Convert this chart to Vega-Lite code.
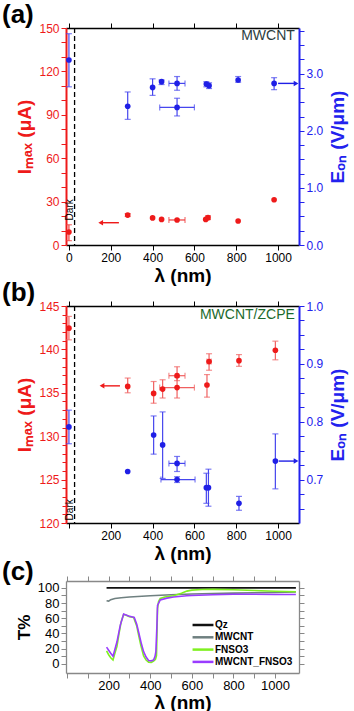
{
  "$schema": "https://vega.github.io/schema/vega-lite/v6.json",
  "padding": {"left": 2, "top": 2, "right": 2, "bottom": 0},
  "background": "white",
  "resolve": {"legend": {"color": "independent"}},
  "spacing": -5,
  "config": {
    "view": {"stroke": null},
    "font": "Liberation Sans",
    "axis": {"grid": false, "labelFont": "Liberation Sans", "titleFont": "Liberation Sans", "labelFontSize": 12, "titleFontSize": 19, "titleFontWeight": "bold", "tickSize": 5, "domainWidth": 1.3, "tickWidth": 1, "labelPadding": 2, "labelOverlap": false}
  },
  "datasets": {
    "aI": [
      {"l": 0, "v": 9.0, "lo": 3, "hi": 14},
      {"l": 281, "v": 20.7, "lo": 19.7, "hi": 21.7},
      {"l": 400, "v": 18.7},
      {"l": 443, "v": 17.7},
      {"l": 517, "v": 17.3, "xlo": 478, "xhi": 555},
      {"l": 654, "v": 17.7},
      {"l": 665, "v": 18.9, "lo": 17.6, "hi": 20.2},
      {"l": 809, "v": 16.6},
      {"l": 981, "v": 31.3}
    ],
    "aE": [
      {"l": 0, "v": 3.24, "lo": 2.77, "hi": 3.70},
      {"l": 281, "v": 2.43, "lo": 2.20, "hi": 2.68},
      {"l": 400, "v": 2.76, "lo": 2.62, "hi": 2.91},
      {"l": 443, "v": 2.86, "lo": 2.81, "hi": 2.89},
      {"l": 517, "v": 2.83, "lo": 2.71, "hi": 2.95, "xlo": 478, "xhi": 555},
      {"l": 517, "v": 2.41, "lo": 2.26, "hi": 2.57, "xlo": 434, "xhi": 600},
      {"l": 657, "v": 2.82, "lo": 2.77, "hi": 2.86},
      {"l": 670, "v": 2.79, "lo": 2.74, "hi": 2.84},
      {"l": 809, "v": 2.89, "lo": 2.85, "hi": 2.95},
      {"l": 981, "v": 2.83, "lo": 2.72, "hi": 2.93}
    ],
    "bI": [
      {"l": 0, "v": 142.45, "lo": 141.1, "hi": 143.8},
      {"l": 281, "v": 135.74, "lo": 135.0, "hi": 136.7},
      {"l": 405, "v": 134.93, "lo": 133.8, "hi": 136.3},
      {"l": 448, "v": 135.43, "lo": 134.4, "hi": 136.5},
      {"l": 517, "v": 135.6, "lo": 134.4, "hi": 136.8, "xlo": 434, "xhi": 600},
      {"l": 517, "v": 136.97, "lo": 136.4, "hi": 138.0, "xlo": 478, "xhi": 555},
      {"l": 660, "v": 135.9, "lo": 134.5, "hi": 137.1},
      {"l": 670, "v": 138.6, "lo": 137.6, "hi": 139.5, "xlo": 660, "xhi": 680},
      {"l": 813, "v": 138.7, "lo": 138.05, "hi": 139.4},
      {"l": 987, "v": 139.9, "lo": 138.8, "hi": 140.95}
    ],
    "bE": [
      {"l": 0, "v": 0.791, "lo": 0.762, "hi": 0.82},
      {"l": 281, "v": 0.714},
      {"l": 405, "v": 0.777, "lo": 0.744, "hi": 0.81},
      {"l": 448, "v": 0.760, "lo": 0.702, "hi": 0.817},
      {"l": 517, "v": 0.728, "lo": 0.714, "hi": 0.740, "xlo": 478, "xhi": 555},
      {"l": 517, "v": 0.700, "lo": 0.695, "hi": 0.705, "xlo": 440, "xhi": 603},
      {"l": 657, "v": 0.686, "lo": 0.659, "hi": 0.711},
      {"l": 667, "v": 0.686, "lo": 0.654, "hi": 0.718},
      {"l": 813, "v": 0.659, "lo": 0.647, "hi": 0.671},
      {"l": 987, "v": 0.732, "lo": 0.684, "hi": 0.779}
    ],
    "aArrR": [{"x1": 239, "x2": 152, "v": 15.4}],
    "aArrB": [{"x1": 1000, "x2": 1086, "v": 2.83}],
    "bArrR": [{"x1": 244, "x2": 158, "v": 135.8}],
    "bArrB": [{"x1": 1003, "x2": 1086, "v": 0.732}],
    "dash": [{"l": 27}],
    "aTxt": [{"l": 3, "v": 17, "t": "Dark"}],
    "bTxt": [{"l": 5, "v": 120.3, "t": "Dark"}],
    "aLab": [{"l": 1080, "v": 144.7, "t": "MWCNT"}],
    "bLab": [{"l": 1080, "v": 144.0, "t": "MWCNT/ZCPE"}],
    "trans": [
      {"s": "Qz", "l": 190, "T": 100}, {"s": "Qz", "l": 400, "T": 100}, {"s": "Qz", "l": 700, "T": 100}, {"s": "Qz", "l": 1100, "T": 100},
      {"s": "MWCNT", "l": 190, "T": 83}, {"s": "MWCNT", "l": 200, "T": 82.5}, {"s": "MWCNT", "l": 210, "T": 84.5}, {"s": "MWCNT", "l": 230, "T": 86}, {"s": "MWCNT", "l": 260, "T": 87}, {"s": "MWCNT", "l": 300, "T": 88}, {"s": "MWCNT", "l": 400, "T": 89.5}, {"s": "MWCNT", "l": 500, "T": 91}, {"s": "MWCNT", "l": 600, "T": 92}, {"s": "MWCNT", "l": 700, "T": 92.5}, {"s": "MWCNT", "l": 800, "T": 93}, {"s": "MWCNT", "l": 900, "T": 93.5}, {"s": "MWCNT", "l": 1000, "T": 94}, {"s": "MWCNT", "l": 1100, "T": 94.5},
      {"s": "FNSO3", "l": 190, "T": 17}, {"s": "FNSO3", "l": 200, "T": 12}, {"s": "FNSO3", "l": 210, "T": 8}, {"s": "FNSO3", "l": 221, "T": 5}, {"s": "FNSO3", "l": 230, "T": 14}, {"s": "FNSO3", "l": 240, "T": 23}, {"s": "FNSO3", "l": 250, "T": 40}, {"s": "FNSO3", "l": 260, "T": 55}, {"s": "FNSO3", "l": 272, "T": 65}, {"s": "FNSO3", "l": 285, "T": 64}, {"s": "FNSO3", "l": 300, "T": 62}, {"s": "FNSO3", "l": 320, "T": 61}, {"s": "FNSO3", "l": 335, "T": 50}, {"s": "FNSO3", "l": 344, "T": 38}, {"s": "FNSO3", "l": 355, "T": 24}, {"s": "FNSO3", "l": 368, "T": 10.5}, {"s": "FNSO3", "l": 380, "T": 5}, {"s": "FNSO3", "l": 392, "T": 2.2}, {"s": "FNSO3", "l": 405, "T": 2}, {"s": "FNSO3", "l": 416, "T": 3.5}, {"s": "FNSO3", "l": 425, "T": 6}, {"s": "FNSO3", "l": 430, "T": 11}, {"s": "FNSO3", "l": 435, "T": 73}, {"s": "FNSO3", "l": 440, "T": 82}, {"s": "FNSO3", "l": 448, "T": 86}, {"s": "FNSO3", "l": 470, "T": 88}, {"s": "FNSO3", "l": 512, "T": 89.5}, {"s": "FNSO3", "l": 550, "T": 93}, {"s": "FNSO3", "l": 576, "T": 95.7}, {"s": "FNSO3", "l": 600, "T": 97}, {"s": "FNSO3", "l": 650, "T": 97.8}, {"s": "FNSO3", "l": 700, "T": 98}, {"s": "FNSO3", "l": 800, "T": 97.5}, {"s": "FNSO3", "l": 900, "T": 96.5}, {"s": "FNSO3", "l": 1000, "T": 95.5}, {"s": "FNSO3", "l": 1100, "T": 94.8},
      {"s": "MWCNT_FNSO3", "l": 190, "T": 22}, {"s": "MWCNT_FNSO3", "l": 200, "T": 18}, {"s": "MWCNT_FNSO3", "l": 210, "T": 14}, {"s": "MWCNT_FNSO3", "l": 221, "T": 10}, {"s": "MWCNT_FNSO3", "l": 230, "T": 19}, {"s": "MWCNT_FNSO3", "l": 240, "T": 29}, {"s": "MWCNT_FNSO3", "l": 256, "T": 51}, {"s": "MWCNT_FNSO3", "l": 272, "T": 65.5}, {"s": "MWCNT_FNSO3", "l": 296, "T": 63}, {"s": "MWCNT_FNSO3", "l": 323, "T": 61}, {"s": "MWCNT_FNSO3", "l": 335, "T": 52}, {"s": "MWCNT_FNSO3", "l": 344, "T": 42}, {"s": "MWCNT_FNSO3", "l": 356, "T": 28}, {"s": "MWCNT_FNSO3", "l": 368, "T": 16}, {"s": "MWCNT_FNSO3", "l": 380, "T": 9}, {"s": "MWCNT_FNSO3", "l": 392, "T": 4.5}, {"s": "MWCNT_FNSO3", "l": 405, "T": 4}, {"s": "MWCNT_FNSO3", "l": 416, "T": 5.2}, {"s": "MWCNT_FNSO3", "l": 423, "T": 10}, {"s": "MWCNT_FNSO3", "l": 427, "T": 16}, {"s": "MWCNT_FNSO3", "l": 432, "T": 50}, {"s": "MWCNT_FNSO3", "l": 435, "T": 77}, {"s": "MWCNT_FNSO3", "l": 448, "T": 84}, {"s": "MWCNT_FNSO3", "l": 480, "T": 86.5}, {"s": "MWCNT_FNSO3", "l": 512, "T": 88}, {"s": "MWCNT_FNSO3", "l": 576, "T": 89.5}, {"s": "MWCNT_FNSO3", "l": 600, "T": 90}, {"s": "MWCNT_FNSO3", "l": 700, "T": 91}, {"s": "MWCNT_FNSO3", "l": 800, "T": 91.5}, {"s": "MWCNT_FNSO3", "l": 900, "T": 91.5}, {"s": "MWCNT_FNSO3", "l": 1000, "T": 91.3}, {"s": "MWCNT_FNSO3", "l": 1100, "T": 91.2}
    ]
  },
  "vconcat": [
    {
      "width": 233, "height": 217,
      "title": {"text": "(a)", "anchor": "start", "frame": "group", "fontSize": 26, "fontWeight": "bold", "font": "Liberation Sans", "dx": -64, "offset": -6},
      "resolve": {"scale": {"y": "independent"}, "axis": {"x": "independent", "y": "independent"}},
      "layer": [
        {
          "resolve": {"axis": {"x": "independent", "y": "independent"}},
          "layer": [
            {
              "layer": [
                {"data": {"name": "dash"}, "mark": {"type": "rule", "color": "black", "strokeDash": [5, 3], "strokeWidth": 1.3},
                 "encoding": {
                   "x": {"field": "l", "type": "quantitative", "scale": {"domain": [-14, 1100], "nice": false, "zero": false},
                         "axis": {"orient": "bottom", "title": "λ (nm)", "values": [0,100,200,300,400,500,600,700,800,900,1000], "format": "d", "labelExpr": "datum.value % 200 === 0 ? datum.label : ''", "domainColor": "black", "tickColor": "black", "labelColor": "black", "titleColor": "black", "titlePadding": 3}}}},
                {"data": {"name": "aI"}, "transform": [{"filter": "isValid(datum.lo)"}], "mark": {"type": "rule", "color": "#ef3a3a", "strokeWidth": 1.2},
                 "encoding": {
                   "x": {"field": "l", "type": "quantitative"},
                   "y": {"field": "lo", "type": "quantitative", "scale": {"domain": [0, 150], "nice": false, "zero": false},
                         "axis": {"orient": "left", "title": "Iₘₐₓ (μA)", "values": [0,30,60,90,120,150], "format": "d", "domainColor": "#ee1a1a", "tickColor": "#ee1a1a", "labelColor": "#ee1a1a", "titleColor": "#ee1a1a", "domainWidth": 2}},
                   "y2": {"field": "hi"}}},
                {"data": {"name": "aI"}, "transform": [{"fold": ["lo", "hi"], "as": ["k", "cv"]}, {"filter": "isValid(datum.cv)"}], "mark": {"type": "tick", "orient": "horizontal", "color": "#ef3a3a", "size": 6, "thickness": 1.2},
                 "encoding": {"x": {"field": "l", "type": "quantitative"}, "y": {"field": "cv", "type": "quantitative"}}},
                {"data": {"name": "aI"}, "transform": [{"filter": "isValid(datum.xlo)"}], "mark": {"type": "rule", "color": "#ef3a3a", "strokeWidth": 1.2},
                 "encoding": {"x": {"field": "xlo", "type": "quantitative"}, "x2": {"field": "xhi"}, "y": {"field": "v", "type": "quantitative"}}},
                {"data": {"name": "aI"}, "transform": [{"fold": ["xlo", "xhi"], "as": ["k", "cv"]}, {"filter": "isValid(datum.cv)"}], "mark": {"type": "tick", "orient": "vertical", "color": "#ef3a3a", "size": 6, "thickness": 1.2},
                 "encoding": {"x": {"field": "cv", "type": "quantitative"}, "y": {"field": "v", "type": "quantitative"}}},
                {"data": {"name": "aI"}, "mark": {"type": "point", "filled": true, "size": 32, "color": "#ee1a1a", "opacity": 1},
                 "encoding": {"x": {"field": "l", "type": "quantitative"}, "y": {"field": "v", "type": "quantitative"}}},
                {"data": {"name": "aArrR"}, "mark": {"type": "rule", "color": "#ee1a1a", "strokeWidth": 1.4},
                 "encoding": {"x": {"field": "x1", "type": "quantitative"}, "x2": {"field": "x2"}, "y": {"field": "v", "type": "quantitative"}}},
                {"data": {"name": "aArrR"}, "mark": {"type": "point", "shape": "triangle-left", "filled": true, "size": 30, "color": "#ee1a1a", "opacity": 1},
                 "encoding": {"x": {"field": "x2", "type": "quantitative"}, "y": {"field": "v", "type": "quantitative"}}},
                {"data": {"name": "aTxt"}, "mark": {"type": "text", "angle": 270, "align": "left", "baseline": "middle", "fontSize": 10, "color": "black"},
                 "encoding": {"x": {"field": "l", "type": "quantitative"}, "y": {"field": "v", "type": "quantitative"}, "text": {"field": "t"}}},
                {"data": {"name": "aLab"}, "mark": {"type": "text", "align": "right", "baseline": "middle", "fontSize": 14, "color": "#2d3d3d"},
                 "encoding": {"x": {"field": "l", "type": "quantitative"}, "y": {"field": "v", "type": "quantitative"}, "text": {"field": "t"}}}
              ]
            },
            {"data": {"name": "aI"}, "mark": {"type": "point", "opacity": 0},
             "encoding": {"x": {"field": "l", "type": "quantitative", "axis": null},
                          "y": {"field": "v", "type": "quantitative", "axis": {"orient": "left", "title": null, "labels": false, "domain": false, "values": [10,20,40,50,70,80,100,110,130,140], "tickColor": "#ee1a1a"}}}}
          ]
        },
        {
          "resolve": {"axis": {"x": "independent", "y": "independent"}},
          "layer": [
            {
              "layer": [
                {"data": {"name": "aE"}, "transform": [{"filter": "isValid(datum.lo)"}], "mark": {"type": "rule", "color": "#4646ee", "strokeWidth": 1.2},
                 "encoding": {
                   "x": {"field": "l", "type": "quantitative", "axis": {"orient": "top", "title": null, "labels": false, "values": [0,100,200,300,400,500,600,700,800,900,1000], "domainColor": "black", "tickColor": "black"}},
                   "y": {"field": "lo", "type": "quantitative", "scale": {"domain": [0, 3.8], "nice": false, "zero": false},
                         "axis": {"orient": "right", "title": "Eₒₙ (V/μm)", "titleAngle": 270, "titleBaseline": "top", "titlePadding": 6, "values": [0, 1, 2, 3], "format": ".1f", "domainColor": "#2222ee", "tickColor": "#2222ee", "labelColor": "#2222ee", "titleColor": "#2222ee", "domainWidth": 2}},
                   "y2": {"field": "hi"}}},
                {"data": {"name": "aE"}, "transform": [{"fold": ["lo", "hi"], "as": ["k", "cv"]}, {"filter": "isValid(datum.cv)"}], "mark": {"type": "tick", "orient": "horizontal", "color": "#4646ee", "size": 6, "thickness": 1.2},
                 "encoding": {"x": {"field": "l", "type": "quantitative"}, "y": {"field": "cv", "type": "quantitative"}}},
                {"data": {"name": "aE"}, "transform": [{"filter": "isValid(datum.xlo)"}], "mark": {"type": "rule", "color": "#4646ee", "strokeWidth": 1.2},
                 "encoding": {"x": {"field": "xlo", "type": "quantitative"}, "x2": {"field": "xhi"}, "y": {"field": "v", "type": "quantitative"}}},
                {"data": {"name": "aE"}, "transform": [{"fold": ["xlo", "xhi"], "as": ["k", "cv"]}, {"filter": "isValid(datum.cv)"}], "mark": {"type": "tick", "orient": "vertical", "color": "#4646ee", "size": 6, "thickness": 1.2},
                 "encoding": {"x": {"field": "cv", "type": "quantitative"}, "y": {"field": "v", "type": "quantitative"}}},
                {"data": {"name": "aE"}, "mark": {"type": "point", "filled": true, "size": 32, "color": "#1f1fe6", "opacity": 1},
                 "encoding": {"x": {"field": "l", "type": "quantitative"}, "y": {"field": "v", "type": "quantitative"}}},
                {"data": {"name": "aArrB"}, "mark": {"type": "rule", "color": "#1f1fe6", "strokeWidth": 1.4},
                 "encoding": {"x": {"field": "x1", "type": "quantitative"}, "x2": {"field": "x2"}, "y": {"field": "v", "type": "quantitative"}}},
                {"data": {"name": "aArrB"}, "mark": {"type": "point", "shape": "triangle-right", "filled": true, "size": 30, "color": "#1f1fe6", "opacity": 1},
                 "encoding": {"x": {"field": "x2", "type": "quantitative"}, "y": {"field": "v", "type": "quantitative"}}}
              ]
            },
            {"data": {"name": "aE"}, "mark": {"type": "point", "opacity": 0},
             "encoding": {"x": {"field": "l", "type": "quantitative", "axis": null},
                          "y": {"field": "v", "type": "quantitative", "axis": {"orient": "right", "title": null, "labels": false, "domain": false, "values": [0.25,0.5,0.75,1.25,1.5,1.75,2.25,2.5,2.75,3.25,3.5,3.75], "tickColor": "#2222ee"}}}}
          ]
        }
      ]
    },
    {
      "width": 233, "height": 217,
      "title": {"text": "(b)", "anchor": "start", "frame": "group", "fontSize": 26, "fontWeight": "bold", "font": "Liberation Sans", "dx": -64, "offset": -6},
      "resolve": {"scale": {"y": "independent"}, "axis": {"x": "independent", "y": "independent"}},
      "layer": [
        {
          "resolve": {"axis": {"x": "independent", "y": "independent"}},
          "layer": [
            {
              "layer": [
                {"data": {"name": "dash"}, "mark": {"type": "rule", "color": "black", "strokeDash": [5, 3], "strokeWidth": 1.3},
                 "encoding": {
                   "x": {"field": "l", "type": "quantitative", "scale": {"domain": [-14, 1100], "nice": false, "zero": false},
                         "axis": {"orient": "bottom", "title": "λ (nm)", "values": [0,100,200,300,400,500,600,700,800,900,1000], "format": "d", "labelExpr": "datum.value % 200 === 0 && datum.value > 0 ? datum.label : ''", "domainColor": "black", "tickColor": "black", "labelColor": "black", "titleColor": "black", "titlePadding": 3}}}},
                {"data": {"name": "bI"}, "transform": [{"filter": "isValid(datum.lo)"}], "mark": {"type": "rule", "color": "#f06060", "strokeWidth": 1.2},
                 "encoding": {
                   "x": {"field": "l", "type": "quantitative"},
                   "y": {"field": "lo", "type": "quantitative", "scale": {"domain": [120, 145], "nice": false, "zero": false},
                         "axis": {"orient": "left", "title": "Iₘₐₓ (μA)", "values": [120,125,130,135,140,145], "format": "d", "domainColor": "#ee1a1a", "tickColor": "#ee1a1a", "labelColor": "#ee1a1a", "titleColor": "#ee1a1a", "domainWidth": 2}},
                   "y2": {"field": "hi"}}},
                {"data": {"name": "bI"}, "transform": [{"fold": ["lo", "hi"], "as": ["k", "cv"]}, {"filter": "isValid(datum.cv)"}], "mark": {"type": "tick", "orient": "horizontal", "color": "#f06060", "size": 6, "thickness": 1.2},
                 "encoding": {"x": {"field": "l", "type": "quantitative"}, "y": {"field": "cv", "type": "quantitative"}}},
                {"data": {"name": "bI"}, "transform": [{"filter": "isValid(datum.xlo)"}], "mark": {"type": "rule", "color": "#f06060", "strokeWidth": 1.2},
                 "encoding": {"x": {"field": "xlo", "type": "quantitative"}, "x2": {"field": "xhi"}, "y": {"field": "v", "type": "quantitative"}}},
                {"data": {"name": "bI"}, "transform": [{"fold": ["xlo", "xhi"], "as": ["k", "cv"]}, {"filter": "isValid(datum.cv)"}], "mark": {"type": "tick", "orient": "vertical", "color": "#f06060", "size": 6, "thickness": 1.2},
                 "encoding": {"x": {"field": "cv", "type": "quantitative"}, "y": {"field": "v", "type": "quantitative"}}},
                {"data": {"name": "bI"}, "mark": {"type": "point", "filled": true, "size": 32, "color": "#ee1a1a", "opacity": 1},
                 "encoding": {"x": {"field": "l", "type": "quantitative"}, "y": {"field": "v", "type": "quantitative"}}},
                {"data": {"name": "bArrR"}, "mark": {"type": "rule", "color": "#ee1a1a", "strokeWidth": 1.4},
                 "encoding": {"x": {"field": "x1", "type": "quantitative"}, "x2": {"field": "x2"}, "y": {"field": "v", "type": "quantitative"}}},
                {"data": {"name": "bArrR"}, "mark": {"type": "point", "shape": "triangle-left", "filled": true, "size": 30, "color": "#ee1a1a", "opacity": 1},
                 "encoding": {"x": {"field": "x2", "type": "quantitative"}, "y": {"field": "v", "type": "quantitative"}}},
                {"data": {"name": "bTxt"}, "mark": {"type": "text", "angle": 270, "align": "left", "baseline": "middle", "fontSize": 10, "color": "black"},
                 "encoding": {"x": {"field": "l", "type": "quantitative"}, "y": {"field": "v", "type": "quantitative"}, "text": {"field": "t"}}},
                {"data": {"name": "bLab"}, "mark": {"type": "text", "align": "right", "baseline": "middle", "fontSize": 14, "color": "#1c6a2c"},
                 "encoding": {"x": {"field": "l", "type": "quantitative"}, "y": {"field": "v", "type": "quantitative"}, "text": {"field": "t"}}}
              ]
            },
            {"data": {"name": "bI"}, "mark": {"type": "point", "opacity": 0},
             "encoding": {"x": {"field": "l", "type": "quantitative", "axis": null},
                          "y": {"field": "v", "type": "quantitative", "axis": {"orient": "left", "title": null, "labels": false, "domain": false, "tickSize": 4, "values": [121,122,123,124,126,127,128,129,131,132,133,134,136,137,138,139,141,142,143,144], "tickColor": "#ee1a1a"}}}}
          ]
        },
        {
          "resolve": {"axis": {"x": "independent", "y": "independent"}},
          "layer": [
            {
              "layer": [
                {"data": {"name": "bE"}, "transform": [{"filter": "isValid(datum.lo)"}], "mark": {"type": "rule", "color": "#4646ee", "strokeWidth": 1.2},
                 "encoding": {
                   "x": {"field": "l", "type": "quantitative", "axis": {"orient": "top", "title": null, "labels": false, "values": [0,100,200,300,400,500,600,700,800,900,1000], "domainColor": "black", "tickColor": "black"}},
                   "y": {"field": "lo", "type": "quantitative", "scale": {"domain": [0.625, 1.0], "nice": false, "zero": false},
                         "axis": {"orient": "right", "title": "Eₒₙ (V/μm)", "titleAngle": 270, "titleBaseline": "top", "titlePadding": 6, "values": [0.7, 0.8, 0.9, 1.0], "format": ".1f", "domainColor": "#2222ee", "tickColor": "#2222ee", "labelColor": "#2222ee", "titleColor": "#2222ee", "domainWidth": 2}},
                   "y2": {"field": "hi"}}},
                {"data": {"name": "bE"}, "transform": [{"fold": ["lo", "hi"], "as": ["k", "cv"]}, {"filter": "isValid(datum.cv)"}], "mark": {"type": "tick", "orient": "horizontal", "color": "#4646ee", "size": 6, "thickness": 1.2},
                 "encoding": {"x": {"field": "l", "type": "quantitative"}, "y": {"field": "cv", "type": "quantitative"}}},
                {"data": {"name": "bE"}, "transform": [{"filter": "isValid(datum.xlo)"}], "mark": {"type": "rule", "color": "#4646ee", "strokeWidth": 1.2},
                 "encoding": {"x": {"field": "xlo", "type": "quantitative"}, "x2": {"field": "xhi"}, "y": {"field": "v", "type": "quantitative"}}},
                {"data": {"name": "bE"}, "transform": [{"fold": ["xlo", "xhi"], "as": ["k", "cv"]}, {"filter": "isValid(datum.cv)"}], "mark": {"type": "tick", "orient": "vertical", "color": "#4646ee", "size": 6, "thickness": 1.2},
                 "encoding": {"x": {"field": "cv", "type": "quantitative"}, "y": {"field": "v", "type": "quantitative"}}},
                {"data": {"name": "bE"}, "mark": {"type": "point", "filled": true, "size": 32, "color": "#1f1fe6", "opacity": 1},
                 "encoding": {"x": {"field": "l", "type": "quantitative"}, "y": {"field": "v", "type": "quantitative"}}},
                {"data": {"name": "bArrB"}, "mark": {"type": "rule", "color": "#1f1fe6", "strokeWidth": 1.4},
                 "encoding": {"x": {"field": "x1", "type": "quantitative"}, "x2": {"field": "x2"}, "y": {"field": "v", "type": "quantitative"}}},
                {"data": {"name": "bArrB"}, "mark": {"type": "point", "shape": "triangle-right", "filled": true, "size": 30, "color": "#1f1fe6", "opacity": 1},
                 "encoding": {"x": {"field": "x2", "type": "quantitative"}, "y": {"field": "v", "type": "quantitative"}}}
              ]
            },
            {"data": {"name": "bE"}, "mark": {"type": "point", "opacity": 0},
             "encoding": {"x": {"field": "l", "type": "quantitative", "axis": null},
                          "y": {"field": "v", "type": "quantitative", "axis": {"orient": "right", "title": null, "labels": false, "domain": false, "values": [0.65,0.675,0.725,0.75,0.775,0.825,0.85,0.875,0.925,0.95,0.975], "tickColor": "#2222ee"}}}}
          ]
        }
      ]
    },
    {
      "width": 233, "height": 92,
      "title": {"text": "(c)", "anchor": "start", "frame": "group", "fontSize": 26, "fontWeight": "bold", "font": "Liberation Sans", "dx": -64, "offset": -9},
      "data": {"name": "trans"},
      "resolve": {"axis": {"x": "independent", "y": "independent"}},
      "layer": [
        {"mark": {"type": "line", "strokeWidth": 1.6},
         "encoding": {
           "x": {"field": "l", "type": "quantitative", "scale": {"domain": [-5, 1115], "nice": false, "zero": false},
                 "axis": {"orient": "bottom", "title": "λ (nm)", "titleFontSize": 19, "values": [0,100,200,300,400,500,600,700,800,900,1000], "format": "d", "labelExpr": "datum.value % 200 === 0 && datum.value > 0 ? datum.label : ''", "labelFontSize": 13, "labelPadding": 1, "titlePadding": 1}},
           "y": {"field": "T", "type": "quantitative", "scale": {"domain": [-12, 109], "nice": false, "zero": false},
                 "axis": {"orient": "left", "title": "T%", "titleFontSize": 17, "values": [0,10,20,30,40,50,60,70,80,90,100], "format": "d", "labelExpr": "datum.value % 20 === 0 ? datum.label : ''", "labelFontSize": 13}},
           "color": {"field": "s", "type": "nominal", "sort": ["Qz", "MWCNT", "FNSO3", "MWCNT_FNSO3"],
                     "scale": {"domain": ["Qz", "MWCNT", "FNSO3", "MWCNT_FNSO3"], "range": ["#111111", "#6f8080", "#7ff020", "#9a3cff"]},
                     "legend": {"title": null, "orient": "bottom-right", "offset": 6, "symbolType": "M-1.9,0L1.9,0", "symbolStrokeWidth": 2.5, "symbolSize": 121, "labelFontSize": 10, "labelFontWeight": "bold", "labelFont": "Liberation Sans", "rowPadding": 0.3, "labelOffset": 5}},
           "detail": {"field": "s"}
         }},
        {"mark": {"type": "line", "opacity": 0},
         "encoding": {
           "x": {"field": "l", "type": "quantitative", "axis": {"orient": "top", "title": null, "labels": false, "values": [0,100,200,300,400,500,600,700,800,900,1000]}},
           "y": {"field": "T", "type": "quantitative", "axis": {"orient": "right", "title": null, "labels": false, "values": [0,10,20,30,40,50,60,70,80,90,100]}},
           "detail": {"field": "s"}
         }}
      ]
    }
  ]
}
